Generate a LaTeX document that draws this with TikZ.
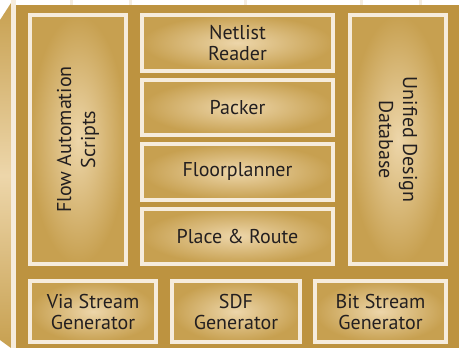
\documentclass[tikz,border=0pt]{standalone}
\usepackage{fontspec}
\setmainfont{PT Sans}
\definecolor{board}{HTML}{BD9340}
\definecolor{cream}{HTML}{F6ECDC}
\definecolor{fillin}{HTML}{EDD6AA}
\definecolor{fillout}{HTML}{C7A050}
\definecolor{ink}{HTML}{231F20}
\definecolor{ghost}{HTML}{F4ECE0}
\tikzset{
  blk/.style={draw=cream, line width=4pt, inner color=fillin, outer color=fillout,
    text=ink, font=\fontsize{20}{21}\selectfont, align=center, inner sep=0pt},
  vtext/.style={text=ink, font=\fontsize{20}{24}\selectfont, align=center},
}
\begin{document}
\begin{tikzpicture}[x=1pt,y=-1pt]
\useasboundingbox (0,0) rectangle (459,348);
\fill[white] (0,0) rectangle (459,348);
% faint back edges
\foreach \xx in {71,130,245,361,420}{\fill[ghost] (\xx-1.5,0) rectangle (\xx+1.5,5);}
% left slanted face
\shade[top color=fillout, bottom color=fillout, middle color=fillin] (0,20) -- (11,3) -- (11,348) -- (0,340) -- cycle;
\fill[cream] (11,0) rectangle (16,348);
% board
\fill[board] (16,5) rectangle (459,348);
% blocks
\node[blk, minimum width=96pt, minimum height=249pt] (flow) at (78,139.5) {};
\node[rotate=90, vtext] (flowtxt) at (flow.center) {Flow Automation\\Scripts};
\node[blk, minimum width=96pt, minimum height=249pt] (udb) at (398,139.5) {};
\node[rotate=-90, vtext] (udbtxt) at (udb.center) {Unified Design\\Database};
\node[blk, minimum width=191pt, minimum height=55.5pt] (net) at (237.5,42.75) {Netlist\\Reader};
\node[blk, minimum width=191pt, minimum height=55.5pt] (pack) at (237.5,107.25) {Packer};
\node[blk, minimum width=191pt, minimum height=55.5pt] (floor) at (237.5,171.75) {Floorplanner};
\node[blk, minimum width=191pt, minimum height=55.5pt] (pr) at (237.5,236.25) {Place \& Route};
\node[blk, minimum width=126pt, minimum height=61pt] (via) at (93,311.5) {Via Stream\\Generator};
\node[blk, minimum width=128pt, minimum height=61pt] (sdf) at (236,311.5) {SDF\\Generator};
\node[blk, minimum width=131pt, minimum height=61pt] (bit) at (380.5,311.5) {Bit Stream\\Generator};
\end{tikzpicture}
\end{document}
